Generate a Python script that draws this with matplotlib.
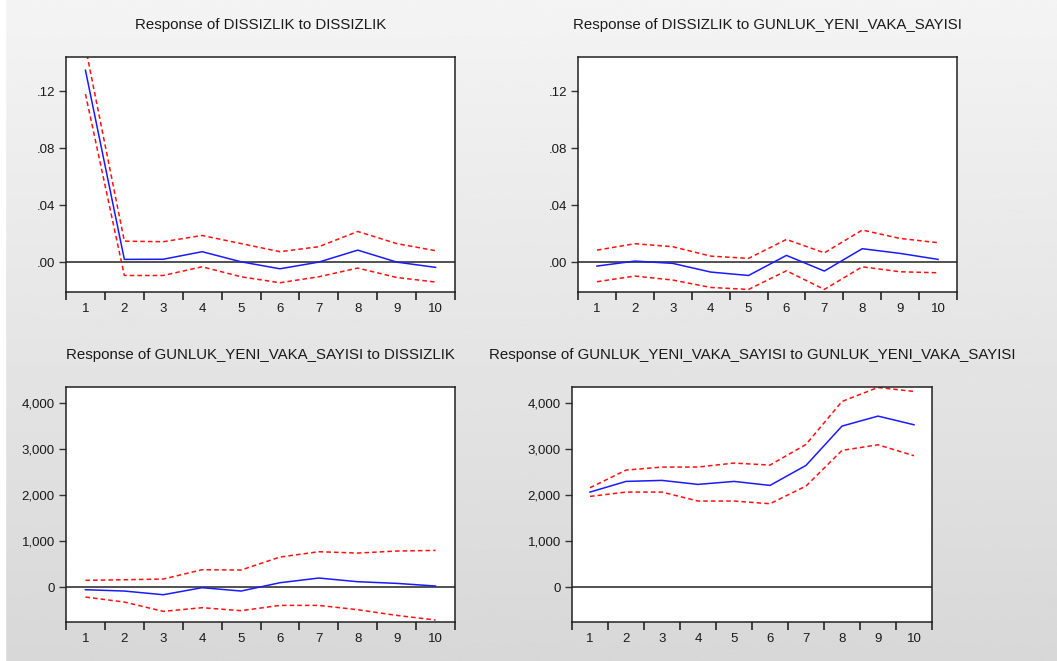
#impulse response plots (EViews style) for DISSIZLIK and GUNLUK_YENI_VAKA_SAYISI

import matplotlib
matplotlib.use('Agg')
import matplotlib.pyplot as plt
import numpy as np
from matplotlib.ticker import FixedLocator, FuncFormatter

plt.rcParams['font.family'] = ['Liberation Sans', 'DejaVu Sans']

########################################################################
### data ###
########################################################################

periods = [1, 2, 3, 4, 5, 6, 7, 8, 9, 10]

# response of DISSIZLIK to DISSIZLIK
d_d_resp = [0.1347, 0.0019, 0.0020, 0.0073, 0.0002, -0.0047, 0.0000, 0.0084, 0.0000, -0.0037]
d_d_up   = [0.1510, 0.0147, 0.0143, 0.0187, 0.0130, 0.0073, 0.0108, 0.0215, 0.0130, 0.0080]
d_d_lo   = [0.1180, -0.0094, -0.0094, -0.0033, -0.0103, -0.0145, -0.0103, -0.0042, -0.0108, -0.0140]

# response of DISSIZLIK to GUNLUK_YENI_VAKA_SAYISI
d_g_resp = [-0.0028, 0.0007, -0.0009, -0.0070, -0.0094, 0.0047, -0.0063, 0.0094, 0.0061, 0.0019]
d_g_up   = [0.0084, 0.0129, 0.0108, 0.0042, 0.0026, 0.0159, 0.0065, 0.0225, 0.0166, 0.0136]
d_g_lo   = [-0.0138, -0.0098, -0.0126, -0.0178, -0.0192, -0.0061, -0.0192, -0.0033, -0.0068, -0.0075]

# response of GUNLUK_YENI_VAKA_SAYISI to DISSIZLIK
g_d_resp = [-58, -87, -167, -14, -87, 94, 196, 116, 80, 22]
g_d_up   = [145, 159, 174, 377, 370, 652, 768, 739, 783, 797]
g_d_lo   = [-217, -326, -529, -449, -514, -399, -399, -493, -616, -717]

# response of GUNLUK_YENI_VAKA_SAYISI to GUNLUK_YENI_VAKA_SAYISI
g_g_resp = [2065, 2297, 2319, 2232, 2297, 2210, 2645, 3500, 3717, 3529]
g_g_up   = [2159, 2543, 2609, 2609, 2696, 2652, 3101, 4036, 4340, 4253]
g_g_lo   = [1971, 2065, 2065, 1870, 1870, 1812, 2196, 2971, 3094, 2855]

titles = ['Response of DISSIZLIK to DISSIZLIK',
          'Response of DISSIZLIK to GUNLUK_YENI_VAKA_SAYISI',
          'Response of GUNLUK_YENI_VAKA_SAYISI to DISSIZLIK',
          'Response of GUNLUK_YENI_VAKA_SAYISI to GUNLUK_YENI_VAKA_SAYISI']

small_ticks = [0.0, 0.04, 0.08, 0.12]
big_ticks = [0, 1000, 2000, 3000, 4000]

########################################################################
### plot ###
########################################################################

W, H = 1057, 661
fig = plt.figure(figsize=(W/100, H/100), dpi=100)

# grey gradient background
bg = fig.add_axes([0, 0, 1, 1], zorder=-10)
grad = np.linspace(0.955, 0.845, 256).reshape(-1, 1)
bg.imshow(grad, cmap='gray', vmin=0, vmax=1, aspect='auto', extent=[0, 1, 0, 1])
bg.axvspan(0, 5/W, color='white')
bg.set_xlim(0, 1)
bg.set_ylim(0, 1)
bg.axis('off')

# panel boxes in pixels: left, top, right, bottom
boxes = [(66, 57, 455, 292), (578, 57, 957, 292),
         (66, 387, 455, 622), (572, 387, 932, 622)]

series = [(d_d_resp, d_d_up, d_d_lo), (d_g_resp, d_g_up, d_g_lo),
          (g_d_resp, g_d_up, g_d_lo), (g_g_resp, g_g_up, g_g_lo)]

for i, (box, (resp, up, lo)) in enumerate(zip(boxes, series)):
    l, t, r, b = box
    ax = fig.add_axes([l/W, 1 - b/H, (r - l)/W, (b - t)/H])
    ax.set_facecolor('white')

    ax.axhline(0, color='#222222', lw=1.1, zorder=1)
    ax.plot(periods, up, color='#ff1010', lw=1.1, ls=(0, (3, 2)), zorder=2)
    ax.plot(periods, lo, color='#ff1010', lw=1.1, ls=(0, (3, 2)), zorder=2)
    ax.plot(periods, resp, color='#1a1aff', lw=1.1, zorder=3)

    ax.set_xlim(0.5, 10.5)
    ax.xaxis.set_major_locator(FixedLocator(np.arange(0.5, 11, 1)))
    ax.xaxis.set_minor_locator(FixedLocator(periods))
    ax.xaxis.set_major_formatter(FuncFormatter(lambda v, p: ''))
    ax.xaxis.set_minor_formatter(FuncFormatter(lambda v, p: '%d' % round(v)))
    ax.tick_params(axis='x', which='major', direction='out', length=6,
                   width=1.3, color='#333333')
    ax.tick_params(axis='x', which='minor', length=0, pad=8,
                   labelsize=9.5, labelcolor='#1a1a1a')

    if i < 2:
        ax.set_ylim(-0.021, 0.144)
        ax.set_yticks(small_ticks)
        ax.yaxis.set_major_formatter(
            FuncFormatter(lambda v, p: ('%.2f' % v).lstrip('0')))
    else:
        ax.set_ylim(-760, 4350)
        ax.set_yticks(big_ticks)
        ax.yaxis.set_major_formatter(FuncFormatter(lambda v, p: '{:,.0f}'.format(v)))
    ax.tick_params(axis='y', direction='out', length=5, width=1.0,
                   color='#333333', labelsize=9.5, labelcolor='#1a1a1a', pad=3)

    for s in ax.spines.values():
        s.set_color('#222222')
        s.set_linewidth(1.1)

    fig.text((l + r)/2/W, 1 - (t - 32)/H, titles[i], ha='center', va='center',
             fontsize=10.8, color='#1a1a1a')

fig.savefig('out.png', dpi=100)
